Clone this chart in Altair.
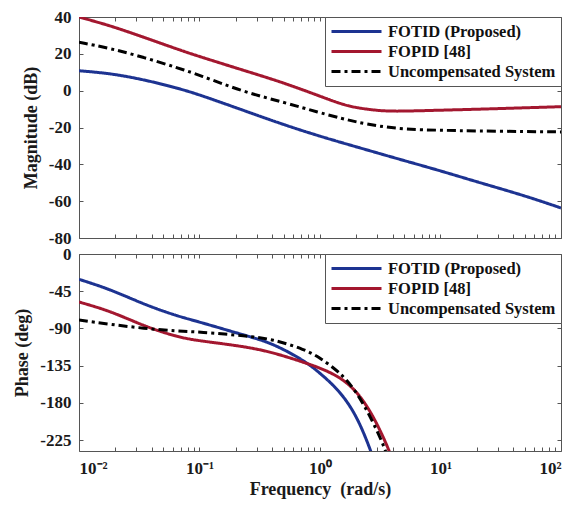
import altair as alt
import pandas as pd

SERIES = ["FOTID (Proposed)", "FOPID [48]", "Uncompensated System"]
COLORS = ["#1d3391", "#a3172f", "#000000"]
DASHES = [[1, 0], [1, 0], [9, 4, 3, 4]]

# ---- Magnitude (dB) ----
mag_blue_f = [0.01, 0.0182, 0.0345, 0.065, 0.1, 0.227, 0.5, 1, 2, 5, 10, 20, 50, 100]
mag_blue_v = [10.8, 9.4, 6.0, 1.5, -2.2, -10.5, -18.5, -24.8, -30.5, -38, -43.5, -49.5, -57, -63.7]

mag_red_f = [0.01, 0.0182, 0.0345, 0.065, 0.1, 0.247, 0.5, 1, 1.5, 2, 3, 4, 6, 10, 20, 50, 100]
mag_red_v = [40, 35.3, 29, 22.6, 18.5, 10.5, 4.3, -3, -7.3, -9.3, -10.8, -11.2, -11, -10.6, -10.1, -9.3, -8.7]

mag_blk_f = [0.01, 0.0182, 0.0345, 0.065, 0.1, 0.227, 0.5, 1, 1.5, 2, 3, 5, 10, 20, 50, 100]
mag_blk_v = [26.3, 23, 18.1, 12.5, 8.5, -0.5, -6.3, -12, -15, -17, -19.2, -21, -21.5, -21.9, -22.2, -22.4]

# ---- Phase (deg) ----
ph_blue_f = [0.01, 0.0182, 0.0345, 0.065, 0.1, 0.247, 0.4, 0.76, 1.0, 1.43, 2.0, 2.62, 3.0]
ph_blue_v = [-30.6, -42.7, -60.8, -74.9, -82.1, -99, -107.5, -129.7, -144, -164, -194, -236, -262]

ph_red_f = [0.01, 0.0182, 0.0345, 0.065, 0.1, 0.227, 0.4, 0.76, 1.0, 1.43, 1.97, 2.7, 3.74, 4.2]
ph_red_v = [-58, -68.9, -87, -100.2, -105, -111.3, -118.5, -131.6, -137.7, -147.8, -163.9, -192, -236, -258]

ph_blk_f = [0.01, 0.0182, 0.0345, 0.065, 0.1, 0.247, 0.4, 0.76, 1.0, 1.43, 1.97, 2.7, 3.5, 3.9]
ph_blk_v = [-79.7, -85, -89.9, -93, -94.2, -99, -102.7, -115.6, -125.5, -141.8, -163.9, -200, -236, -260]

X_DECADES = [0.01, 0.1, 1, 10, 100]
X_ALL_TICKS = [m * d for d in [0.01, 0.1, 1, 10] for m in range(1, 10)] + [100]
MAG_TICKS = [-80, -60, -40, -20, 0, 20, 40]
PH_TICKS = [-225, -180, -135, -90, -45, 0]

FONT = "Liberation Serif"
W = 482
H_TOP = 221
H_BOT = 197


def frame(fs, vs):
    rows = []
    for name, f, v in zip(SERIES, fs, vs):
        for a, b in zip(f, v):
            rows.append({"f": a, "v": b, "series": name})
    return pd.DataFrame(rows)


mag_df = frame([mag_blue_f, mag_red_f, mag_blk_f], [mag_blue_v, mag_red_v, mag_blk_v])
ph_df = frame([ph_blue_f, ph_red_f, ph_blk_f], [ph_blue_v, ph_red_v, ph_blk_v])

legend = alt.Legend(
    title=None, orient="top-right", offset=0, strokeColor="#555555", fillColor="white",
    padding=5, labelFont=FONT, labelFontWeight="bold", labelFontSize=16.5, labelColor="#111111",
    symbolType="stroke", symbolSize=2500, symbolStrokeWidth=3, clipHeight=19,
    labelOffset=5, rowPadding=1, cornerRadius=0, labelLimit=400,
)

label_expr = ("datum.value == 0.01 ? '10\u207b\u00b2' : datum.value == 0.1 ? '10\u207b\u00b9' : "
              "datum.value == 1 ? '10\u2070' : datum.value == 10 ? '10\u00b9' : '10\u00b2'")


def panel(df, ydom, yticks, ytitle, height, bottom):
    xs = alt.Scale(type="log", domain=[0.01, 100], nice=False)
    ys = alt.Scale(domain=ydom, nice=False, zero=False)
    color = alt.Color("series:N", scale=alt.Scale(domain=SERIES, range=COLORS), legend=legend)
    dash = alt.StrokeDash("series:N", scale=alt.Scale(domain=SERIES, range=DASHES), legend=legend)

    if bottom:
        xa = alt.Axis(values=X_DECADES, labelExpr=label_expr, tickSize=0, domain=False, grid=False,
                      labelFont=FONT, labelFontWeight="bold", labelFontSize=17, labelPadding=9,
                      labelColor="#1a1a1a", title="Frequency\u00a0 (rad/s)", titleFont=FONT,
                      titleFontWeight="bold", titleFontSize=18, titlePadding=4, titleColor="#1a1a1a")
        xenc = alt.X("f:Q", scale=xs, axis=xa)
    else:
        xenc = alt.X("f:Q", scale=xs, axis=None)

    ya = alt.Axis(values=yticks, labelExpr="datum.value + ''", tickSize=0, domain=False, grid=False,
                  labelFont=FONT, labelFontWeight="bold", labelFontSize=17, labelPadding=8,
                  labelColor="#1a1a1a", title=ytitle, titleFont=FONT, titleFontWeight="bold",
                  titleFontSize=18, titlePadding=8, titleColor="#1a1a1a")

    lines = alt.Chart(df).mark_line(strokeWidth=3, clip=True, interpolate="basis").encode(
        x=xenc, y=alt.Y("v:Q", scale=ys, axis=ya), color=color, strokeDash=dash,
    )

    def ticks(xo, xoff, yo, yoff):
        return alt.Chart(df).mark_point(opacity=0, clip=True).encode(
            x=alt.X("f:Q", scale=xs, title=None,
                    axis=alt.Axis(orient=xo, offset=xoff, values=X_ALL_TICKS, labels=False,
                                  tickSize=4, tickColor="#555555", domain=False, grid=False)),
            y=alt.Y("v:Q", scale=ys, title=None,
                    axis=alt.Axis(orient=yo, offset=yoff, values=yticks, labels=False,
                                  tickSize=4, tickColor="#555555", domain=False, grid=False)),
        )

    return alt.layer(
        lines,
        ticks("top", -height, "right", -W),
        ticks("bottom", -height, "left", -W),
    ).resolve_axis(x="independent", y="independent").properties(width=W, height=height)


top = panel(mag_df, [-80, 40], MAG_TICKS, "Magnitude (dB)", H_TOP, False)
bot = panel(ph_df, [-238, 0], PH_TICKS, "Phase (deg)", H_BOT, True)

chart = alt.vconcat(top, bot, spacing=16, bounds="flush").resolve_scale(
    color="independent", strokeDash="independent"
).resolve_legend(
    color="independent", strokeDash="independent"
).properties(
    padding={"left": 13, "top": 7, "right": 5, "bottom": 5},
    background="white",
).configure_view(stroke="#555555", strokeWidth=1)

chart.save("out.html", embed_options={"renderer": "svg", "actions": False})
